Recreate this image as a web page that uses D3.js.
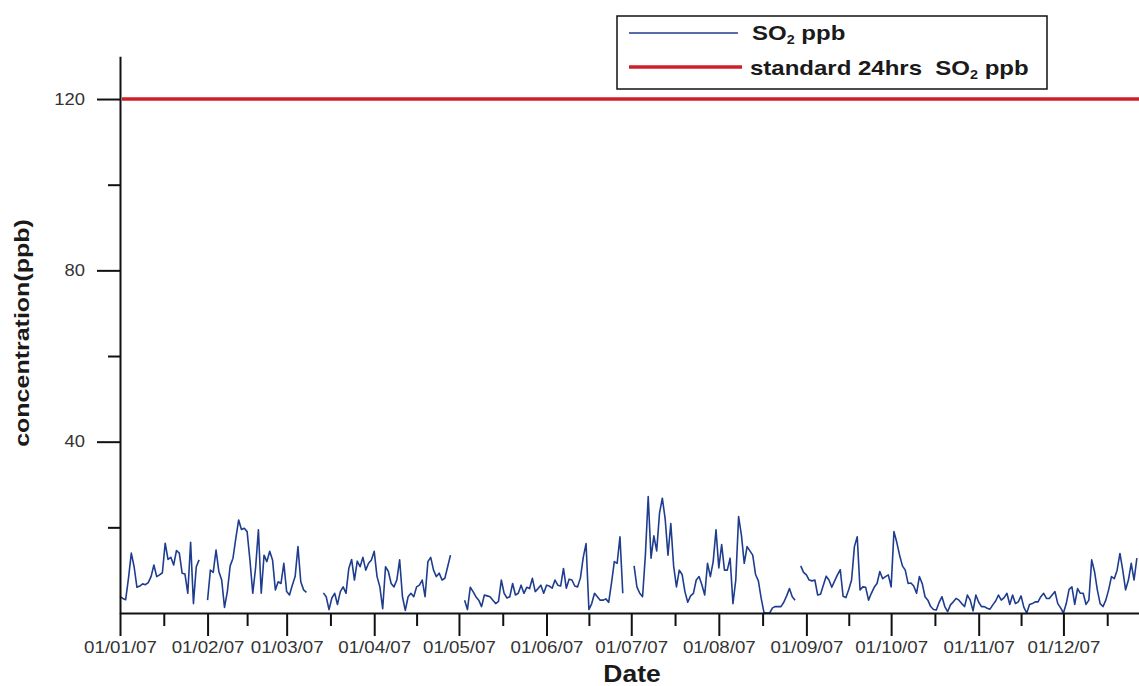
<!DOCTYPE html>
<html><head><meta charset="utf-8">
<script src="https://cdn.jsdelivr.net/npm/d3@7"></script>
<style>
body{margin:0;background:#fff}
svg{display:block}
text{font-family:"Liberation Sans",Arial,Helvetica,sans-serif}
</style>
</head><body>
<svg id="chart" width="1139" height="686"></svg>
<script>
// ---- data (daily SO2 ppb, 2007; null = missing) ----
const so2Jan = [3.9,3.4,3.1,8.1,14.0,10.8,6.0,6.3,6.8,6.6,7.1,8.5,11.2,8.5,8.9,9.4,16.3,12.5,13.0,11.2,14.6,14.0,9.3,9.1,4.6,16.5,2.2,10.8,12.4,null,null];
const so2Feb = [3.0,10.0,9.5,14.7,9.7,7.7,1.3,5.0,11.0,12.8,17.4,21.7,19.5,19.8,19.0,12.4,4.6,10.5,19.4,4.6,13.5,12.0,14.4,12.4,5.4,7.3,6.9,11.6];
const so2Mar = [5.0,4.2,6.5,8.5,15.5,7.3,5.4,4.8,null,null,null,null,null,4.7,3.8,0.8,3.5,4.6,2.0,5.0,6.1,4.6,10.4,12.5,7.7,12.1,10.8,13.0,10.0,11.6,12.4];
const so2Apr = [14.4,8.5,6.1,1.0,10.8,9.7,6.9,6.1,7.7,12.4,3.8,0.6,3.8,4.6,3.8,6.1,6.5,7.7,3.8,12.0,13.0,10.0,8.5,9.3,7.7,8.1,10.8,13.5,null,null];
const so2May = [null,null,3.0,0.8,6.0,5.0,3.8,3.0,1.5,4.2,4.0,3.8,3.0,2.2,2.7,7.7,4.6,3.5,3.8,6.9,4.2,4.6,6.5,4.6,6.0,5.7,8.1,5.0,5.7,6.5,4.6];
const so2Jun = [6.5,6.3,5.8,7.7,6.5,6.3,10.4,5.8,7.9,7.7,6.3,6.1,8.2,13.0,16.2,0.8,2.2,4.6,3.8,3.0,3.0,3.3,2.5,7.0,12.0,11.6,17.8,4.6,null,null];
const so2Jul = [null,11.0,6.1,4.6,3.8,13.5,27.2,12.8,18.0,14.5,23.3,26.8,22.0,13.5,20.9,11.0,6.1,10.0,9.0,5.0,2.5,4.0,4.6,7.7,8.5,6.6,4.2,11.6,8.5,12.0,19.4];
const so2Aug = [10.5,16.0,10.0,10.0,12.8,2.2,7.7,22.5,18.2,11.6,15.5,14.5,13.5,9.0,7.5,3.4,0.1,0.0,0.0,1.2,1.5,1.5,1.5,2.5,4.0,5.7,3.8,3.0,null,11.0,9.5];
const so2Sep = [8.9,7.7,7.5,7.7,4.2,4.4,6.5,8.6,7.7,6.0,7.5,8.9,10.1,3.9,3.6,5.5,7.7,15.5,17.8,5.4,6.1,6.0,3.0,4.6,6.0,6.9,9.7,8.0,8.5,8.9];
const so2Oct = [6.1,19.0,16.5,13.5,11.0,10.0,6.9,7.0,6.3,4.6,8.5,6.9,3.8,3.0,1.5,0.8,0.7,2.5,3.8,1.5,0.3,1.9,2.6,3.4,3.0,2.2,1.5,4.2,3.0,0.5,4.2];
const so2Nov = [2.5,1.5,1.5,1.1,0.9,1.9,2.8,4.2,3.0,3.6,4.6,2.0,4.2,2.2,2.6,4.0,1.3,0.0,2.0,2.2,2.6,2.6,3.8,4.6,3.4,3.4,4.2,5.0,2.2,1.2];
const so2Dec = [0.0,2.2,5.5,6.1,2.0,5.7,4.6,4.6,2.0,3.0,12.4,9.7,5.4,2.2,1.5,3.0,5.4,8.5,8.0,10.0,13.9,10.0,5.4,7.7,11.6,7.7,12.8];

const standardValue = 120;
const monthTickLabels = ["01/01/07","01/02/07","01/03/07","01/04/07","01/05/07","01/06/07",
                         "01/07/07","01/08/07","01/09/07","01/10/07","01/11/07","01/12/07"];
const yMajorTicks = [40, 80, 120];
const yMinorTicks = [20, 60, 100];
const seriesName = "SO";
const standardName = "standard 24hrs\u00a0 SO";

// ---- build ----
const start = new Date(Date.UTC(2007, 0, 1));
const end = new Date(Date.UTC(2008, 0, 1));
const allValues = [].concat(so2Jan, so2Feb, so2Mar, so2Apr, so2May, so2Jun,
                            so2Jul, so2Aug, so2Sep, so2Oct, so2Nov, so2Dec);
const series = allValues.map((v, i) => ({date: d3.utcDay.offset(start, i), v}));

const svg = d3.select("#chart");
const x = d3.scaleUtc().domain([start, end]).range([120, 1151]);
const y = d3.scaleLinear().domain([0, 130]).range([613, 56.2]);

const monthStarts = d3.utcMonth.range(start, end);
const monthMids = monthStarts.map(m => new Date((+m + +d3.utcMonth.offset(m, 1)) / 2));

// standard line
svg.append("path")
  .datum([{date: start, v: standardValue}, {date: end, v: standardValue}])
  .attr("fill", "none").attr("stroke", "#cf1f2b").attr("stroke-width", 3.5)
  .attr("d", d3.line().x(d => x(d.date) + 2).y(d => y(d.v)));

// SO2 series
svg.append("path")
  .datum(series)
  .attr("fill", "none").attr("stroke", "#1f3d8e").attr("stroke-width", 1.6)
  .attr("stroke-linejoin", "round")
  .attr("d", d3.line().defined(d => d.v != null).x(d => x(d.date)).y(d => y(d.v)));

// axes
function styleAxis(g) {
  g.selectAll("path.domain").attr("stroke", "#111").attr("stroke-width", 2);
  g.selectAll(".tick line").attr("stroke", "#111").attr("stroke-width", 2);
}
const gx = svg.append("g").attr("transform", `translate(0,${y(0)})`)
  .call(d3.axisBottom(x).tickValues(monthStarts)
        .tickFormat((d, i) => monthTickLabels[i]).tickSize(23).tickSizeOuter(0).tickPadding(6));
styleAxis(gx);
gx.selectAll("text").attr("font-size", 16).attr("fill", "#333")
  .attr("transform", "scale(1.17,1)");
const gxm = svg.append("g").attr("transform", `translate(0,${y(0)})`)
  .call(d3.axisBottom(x).tickValues(monthMids).tickFormat("").tickSize(13).tickSizeOuter(0));
styleAxis(gxm);
gxm.select("path.domain").remove();

const gy = svg.append("g").attr("transform", `translate(${x(start)},0)`)
  .call(d3.axisLeft(y).tickValues(yMajorTicks).tickSize(23).tickSizeOuter(0).tickPadding(12));
styleAxis(gy);
gy.selectAll("text").attr("font-size", 16).attr("fill", "#333")
  .attr("x", 0).attr("transform", "translate(-35,0) scale(1.15,1)");
const gym = svg.append("g").attr("transform", `translate(${x(start)},0)`)
  .call(d3.axisLeft(y).tickValues(yMinorTicks).tickFormat("").tickSize(12).tickSizeOuter(0));
styleAxis(gym);
gym.select("path.domain").remove();

// axis titles
svg.append("text").attr("transform", "translate(29,333) rotate(-90) scale(1.25,1)")
  .attr("text-anchor", "middle").attr("font-size", 20).attr("font-weight", "bold")
  .attr("fill", "#1a1a1a").text("concentration(ppb)");
svg.append("text").attr("transform", "translate(632,682) scale(1.15,1)")
  .attr("text-anchor", "middle").attr("font-size", 23).attr("font-weight", "bold")
  .attr("fill", "#1a1a1a").text("Date");

// legend
const lg = svg.append("g");
lg.append("rect").attr("x", 617).attr("y", 16).attr("width", 430).attr("height", 73)
  .attr("fill", "#fff").attr("stroke", "#111").attr("stroke-width", 1.5);
lg.append("line").attr("x1", 629).attr("x2", 738).attr("y1", 33).attr("y2", 33)
  .attr("stroke", "#1f3d8e").attr("stroke-width", 1.4);
lg.append("line").attr("x1", 629).attr("x2", 742).attr("y1", 67).attr("y2", 67)
  .attr("stroke", "#cf1f2b").attr("stroke-width", 3.5);
function legendText(tx, ty, name) {
  const t = lg.append("text").attr("transform", `translate(${tx},${ty}) scale(1.2,1)`)
    .attr("font-size", 20).attr("font-weight", "bold").attr("fill", "#1a1a1a");
  t.append("tspan").text(name);
  t.append("tspan").attr("font-size", 12).attr("dy", 4).text("2");
  t.append("tspan").attr("dy", -4).text(" ppb");
}
legendText(752, 40, seriesName);
legendText(750, 75, standardName);
</script>
</body></html>
